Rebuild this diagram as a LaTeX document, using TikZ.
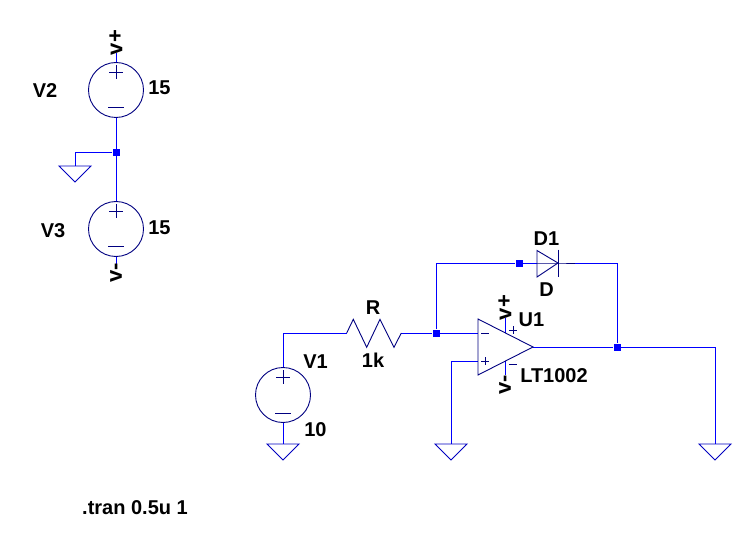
\documentclass[tikz,border=0pt]{standalone}
\usepackage{fontspec}
\setmainfont{Liberation Sans}
\usetikzlibrary{calc}
\definecolor{wireblue}{RGB}{0,0,255}
\definecolor{compblue}{RGB}{0,0,128}
\tikzset{
  wire/.style={draw=wireblue,line width=1pt},
  comp/.style={draw=compblue,line width=0.9pt},
  source/.style={circle,draw=compblue,line width=0.9pt,minimum size=55pt,inner sep=0pt},
  junction/.style={rectangle,fill=wireblue,minimum size=7pt,inner sep=0pt},
  lbl/.style={inner sep=0pt,font=\fontsize{20}{20}\bfseries\selectfont},
  pin/.style={inner sep=0pt,rotate=90,font=\fontsize{22}{22}\bfseries\selectfont},
  gnd/.pic={\draw[comp,wireblue!50!compblue] (-16,0) -- (16,0) -- (0,16) -- cycle;},
  splus/.pic={\draw[comp] (-7,0) -- (7,0) (0,-7) -- (0,7);},
  sminus/.pic={\draw[comp] (-8,0) -- (8,0);}
}
\begin{document}
\begin{tikzpicture}[x=1pt,y=-1pt]
\useasboundingbox (0,0) rectangle (753,559);
% sources
\node[source] (v2) at (116,90) {};
\node[source] (v3) at (116,229) {};
\node[source] (v1) at (283,395) {};
\foreach \c/\n in {116/72,116/211,283/377}{\pic at (\c,\n) {splus};}
\foreach \c/\n in {116/107,116/246,283/413}{\pic at (\c,\n) {sminus};}
% junctions
\node[junction] (j0) at (116,152.5) {};
\node[junction] (j1) at (436,333) {};
\node[junction] (j2) at (519,263) {};
\node[junction] (j3) at (617,347) {};
% coordinates
\coordinate (g0) at (75,166);
\coordinate (g1) at (283,444);
\coordinate (g2) at (451,444);
\coordinate (g3) at (715,444);
\coordinate (vp) at (116,53);
\coordinate (vm) at (116,265);
\coordinate (ra) at (346.7,333);
\coordinate (rb) at (401.3,333);
\coordinate (inm) at (478,333);
\coordinate (inp) at (478,361);
\coordinate (out) at (533,347);
\coordinate (da) at (537,263);
\coordinate (dk) at (558,263);
\coordinate (dw) at (575,263);
\coordinate (upt) at (505.5,318);
\coordinate (upb) at (505.5,333);
\coordinate (umt) at (505.5,361);
\coordinate (umb) at (505.5,375);
% wires
\draw[wire] (vp) -- (v2.north);
\draw[wire] (v2.south) -- (j0) -- (v3.north);
\draw[wire] (v3.south) -- (vm);
\draw[wire] (j0) -| (g0);
\draw[wire] (v1.north) |- (ra);
\draw[wire] (v1.south) -- (g1);
\draw[wire] (rb) -- (j1) -- (inm);
\draw[wire] (j1) |- (j2) -- (da);
\draw[wire] (dw) -| (j3);
\draw[wire] (out) -- (j3) -| (g3);
\draw[wire] (inp) -| (g2);
\draw[wire] (upt) -- (upb);
\draw[wire] (umt) -- (umb);
% grounds
\foreach \g in {g0,g1,g2,g3}{\pic at (\g) {gnd};}
% resistor
\draw[comp] (ra) -- (353.3,319.3) -- (366.7,347.3) -- (380,319.3) -- (394,347.3) -- (rb);
% diode
\draw[comp] (537,250.5) -- (dk) -- (537,277) -- cycle;
\draw[comp] (da) -- (dk) -- (dw);
\draw[comp] (558,249.5) -- (558,277);
% opamp
\draw[comp] (478,319) -- (out) -- (478,375) -- cycle;
\draw[comp] (481,333) -- (489,333);
\draw[comp] (481,361) -- (489,361) (485,357) -- (485,365);
\draw[comp] (509,330) -- (517,330) (513,326) -- (513,334);
\draw[comp] (509,364) -- (517,364);
% labels
\node[lbl] (tv2) at (45,90.5) {V2};
\node[lbl] (t15a) at (159.5,87.5) {15};
\node[lbl] (tv3) at (53,230.5) {V3};
\node[lbl] (t15b) at (159.5,227.5) {15};
\node[lbl] (tv1) at (315.5,361.5) {V1};
\node[lbl] (t10) at (315.5,429.5) {10};
\node[lbl] (tr) at (373,307.5) {R};
\node[lbl] (t1k) at (373,360.5) {1k};
\node[lbl] (td1) at (546.5,238.5) {D1};
\node[lbl] (td) at (546.5,289.5) {D};
\node[lbl] (tu1) at (531.5,319.5) {U1};
\node[lbl] (tlt) at (554,375.5) {LT1002};
\node[lbl] (ttran) at (135,507.5) {.tran 0.5u 1};
\node[pin] (pv2) at (116,42.5) {v+};
\node[pin] (pv3) at (116,272.5) {v-};
\node[pin] (pu1) at (505,307.5) {v+};
\node[pin] (pu2) at (505,384.5) {v-};
\end{tikzpicture}
\end{document}
